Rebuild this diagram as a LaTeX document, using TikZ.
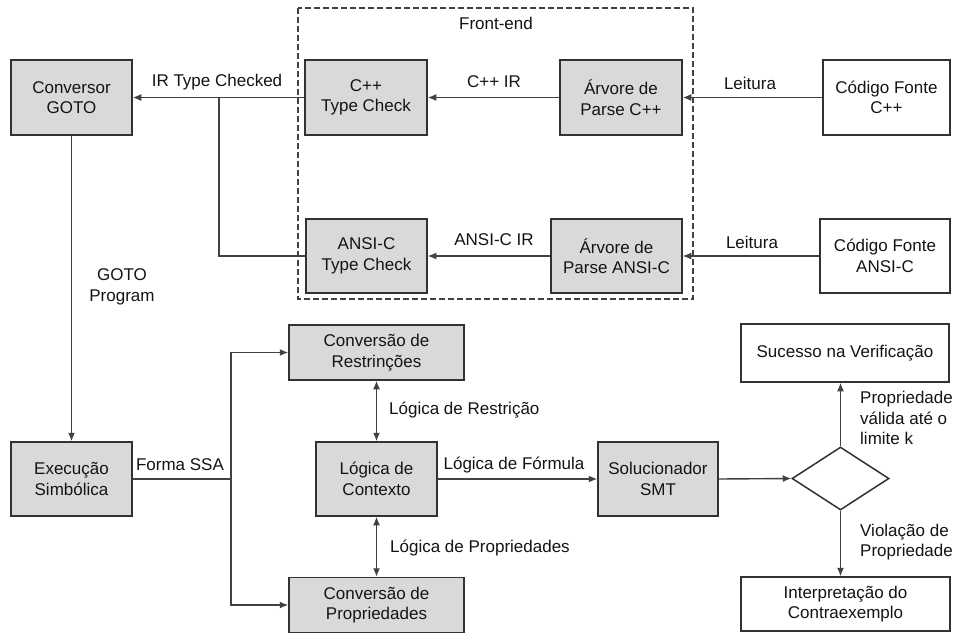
\documentclass[tikz,border=0pt]{standalone}
\usepackage{fontspec}
\setmainfont{Liberation Sans}
\usetikzlibrary{arrows.meta,shapes.geometric}
\definecolor{boxfill}{RGB}{217,217,217}
\definecolor{boxline}{RGB}{50,50,50}
\definecolor{linecol}{RGB}{65,65,65}
\definecolor{txtcol}{RGB}{20,20,20}
\tikzset{
  base/.style={draw=boxline, line width=1.5pt, align=center, inner sep=0pt, text=txtcol,
    font=\fontsize{17}{20.5}\selectfont},
  gbox/.style={base, fill=boxfill},
  wbox/.style={base, fill=white},
  conn/.style={draw=linecol, line width=1.4pt},
  arr/.style={conn, -{Latex[length=8.5pt,width=7pt]}},
  darr/.style={conn, {Latex[length=8.5pt,width=7pt]}-{Latex[length=8.5pt,width=7pt]}},
  lbl/.style={text=txtcol, inner sep=0pt, font=\fontsize{17}{20.5}\selectfont}
}
\begin{document}
\begin{tikzpicture}[x=1pt,y=-1pt]
\useasboundingbox (0,0) rectangle (956,635);
\fill[white] (0,0) rectangle (956,635);

% Front-end frame
\draw[linecol, line width=1.2pt, dash pattern=on 6pt off 3pt] (298,8) rectangle (693,299);
\node[lbl] (fe) at (496,23) {Front-end};

% top boxes
\node[gbox, minimum width=121pt, minimum height=75pt] (goto) at (71.5,97.5) {Conversor\\GOTO};
\node[gbox, minimum width=122pt, minimum height=75pt] (cpptc) at (366,97.5) {C++\\Type Check};
\node[gbox, minimum width=122pt, minimum height=75pt] (parsecpp) at (621,97.5) {Árvore de\\Parse C++};
\node[wbox, minimum width=127pt, minimum height=75pt] (srccpp) at (886.5,97.5) {Código Fonte\\C++};
\node[gbox, minimum width=121pt, minimum height=74pt] (ansitc) at (366.5,256) {ANSI-C\\Type Check};
\node[gbox, minimum width=131pt, minimum height=74pt] (parseansi) at (616.5,256) {Árvore de\\Parse ANSI-C};
\node[wbox, minimum width=130pt, minimum height=74pt] (srcansi) at (885,256) {Código Fonte\\ANSI-C};

% bottom boxes
\node[gbox, minimum width=121pt, minimum height=74pt] (exec) at (71.5,479) {Execução\\Simbólica};
\node[gbox, minimum width=175pt, minimum height=55pt] (restr) at (376.5,352.5) {Conversão de\\Restrinções};
\node[gbox, minimum width=121pt, minimum height=74pt] (ctx) at (376.5,479) {Lógica de\\Contexto};
\node[gbox, minimum width=175pt, minimum height=55pt] (props) at (376.5,605) {Conversão de\\Propriedades};
\node[gbox, minimum width=120pt, minimum height=74pt] (smt) at (658,479) {Solucionador\\SMT};
\node[wbox, minimum width=208pt, minimum height=58pt] (suc) at (845,353) {Sucesso na Verificação};
\node[base, diamond, fill=white, minimum width=97pt, minimum height=63pt] (dec) at (840.5,478.5) {};
\node[wbox, minimum width=209pt, minimum height=54pt] (interp) at (845.5,604) {Interpretação do\\Contraexemplo};

% top connectors
\coordinate (j1) at (219,97.5);
\draw[arr] (cpptc.west) -- (goto.east);
\draw[conn] (ansitc.west) -| (j1);
\draw[arr] (parsecpp.west) -- (cpptc.east);
\draw[arr] (srccpp.west) -- (parsecpp.east);
\draw[arr] (parseansi.west) -- (ansitc.east);
\draw[arr] (srcansi.west) -- (parseansi.east);
\draw[arr] (goto.south) -- (exec.north);

\node[lbl] (l1) at (217,82) {IR Type Checked};
\node[lbl] (l2) at (494,82) {C++ IR};
\node[lbl] (l3) at (494,240) {ANSI-C IR};
\node[lbl] (l4) at (750,83) {Leitura};
\node[lbl] (l5) at (752,242) {Leitura};
\node[lbl, align=center] (l6) at (122,287) {GOTO\\Program};

% bottom connectors
\coordinate (j2) at (231,479);
\draw[conn] (exec.east) -- (j2);
\draw[arr] (j2) |- (restr.west);
\draw[arr] (j2) |- (props.west);
\draw[darr] (restr.south) -- (ctx.north);
\draw[darr] (ctx.south) -- (props.north);
\draw[arr] (ctx.east) -- (smt.west);
\draw[arr] (smt.east) -- (dec.west);
\draw[arr] (dec.north) -- (dec.north |- suc.south);
\draw[arr] (dec.south) -- (dec.south |- interp.north);

\node[lbl] (l7) at (180,465) {Forma SSA};
\node[lbl, anchor=west] (l8) at (389,410) {Lógica de Restrição};
\node[lbl, anchor=west] (l9) at (390,548) {Lógica de Propriedades};
\node[lbl] (l10) at (514,465) {Lógica de Fórmula};
\node[lbl, anchor=west, align=left] (l11) at (860,418) {Propriedade\\válida até o\\limite k};
\node[lbl, anchor=west, align=left] (l12) at (860,542) {Violação de\\Propriedade};
\end{tikzpicture}
\end{document}
